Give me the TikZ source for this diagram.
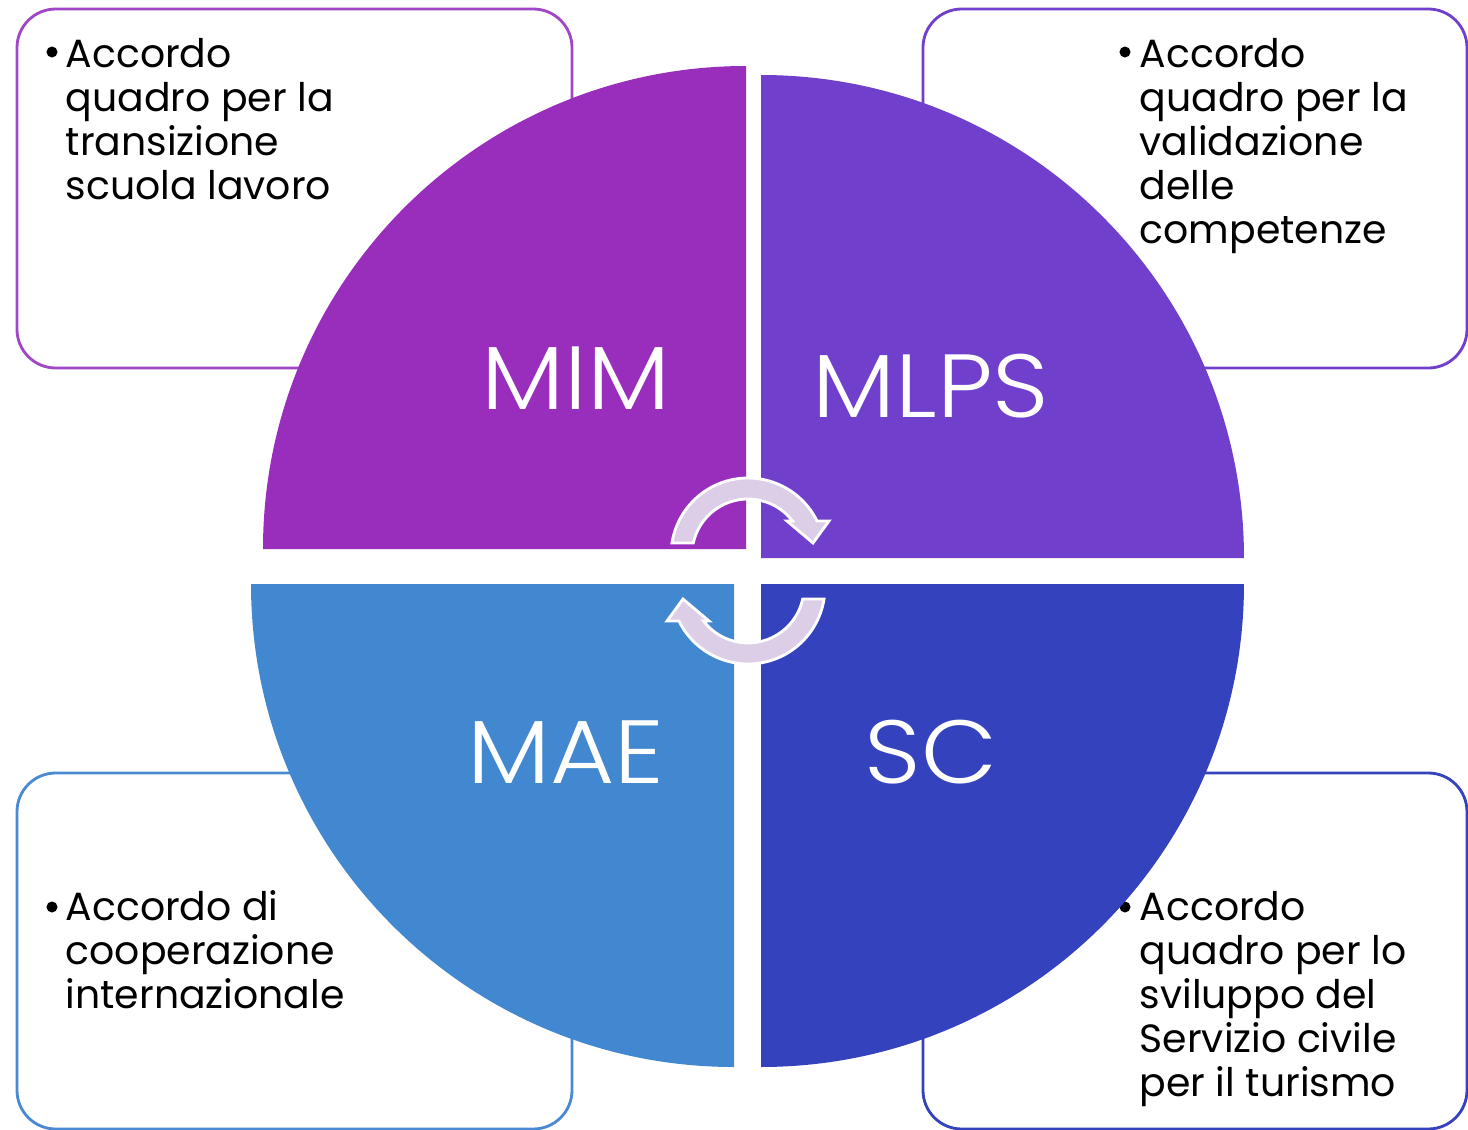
\documentclass[tikz,border=0pt]{standalone}
\usepackage{fontspec}
\setmainfont{Poppins}
\newfontfamily\thinfont{Poppins Light}

\definecolor{mimcol}{HTML}{992EBC}
\definecolor{mlpscol}{HTML}{7040CC}
\definecolor{maecol}{HTML}{4288D0}
\definecolor{sccol}{HTML}{3542BE}
\definecolor{mimline}{HTML}{A046C6}
\definecolor{maeline}{HTML}{4A8AD4}
\definecolor{arrowcol}{HTML}{DDCEE8}

\begin{document}
\begin{tikzpicture}[x=0.01cm, y=-0.01cm,
    infobox/.style={line width=0.8pt, rounded corners=11pt, fill=white},
    itemtext/.style={anchor=base west, align=left, inner sep=0pt,
      font=\fontsize{11.2}{12.5}\selectfont},
    bulletdot/.style={circle, fill=black, inner sep=0pt, minimum size=0.11cm},
    bigtext/.style={text=white, inner sep=0pt, xscale=1.1, transform shape,
      font=\thinfont\fontsize{25.5}{30}\selectfont},
    cyclearrow/.style={fill=arrowcol, draw=white, line width=0.8pt}]
    \useasboundingbox (0, 0) rectangle (1468, 1130);
    \fill[white] (0, 0) rectangle (1468, 1130);
    \clip (0, 0) rectangle (1468, 1130);

    % Boxes
    \draw[infobox, draw=mimline] (17, 9) rectangle (572, 368);
    \draw[infobox, draw=mlpscol] (923, 9) rectangle (1467, 368);
    \draw[infobox, draw=maeline] (17, 773) rectangle (572, 1129);
    \draw[infobox, draw=sccol] (923, 773) rectangle (1467, 1129);

    % Box texts (placed at the baseline of their last line)
    \node[bulletdot] (tldot) at (52, 52) {};
    \node[itemtext] (tltext) at (65, 199) {Accordo\\quadro per la\\transizione\\scuola lavoro};
    \node[bulletdot] (trdot) at (1125, 52) {};
    \node[itemtext] (trtext) at (1139, 243) {Accordo\\quadro per la\\validazione\\delle\\competenze};
    \node[bulletdot] (bldot) at (52, 907) {};
    \node[itemtext] (bltext) at (65, 1008) {Accordo di\\cooperazione\\internazionale};
    \node[bulletdot] (brdot) at (1125, 907) {};
    \node[itemtext] (brtext) at (1139, 1096) {Accordo\\quadro per lo\\sviluppo del\\Servizio civile\\per il turismo};

    % Quarters
    \fill[mimcol] (746, 549) -- (263, 549) arc[start angle=180, end angle=270, radius=483] -- cycle;
    \fill[mlpscol] (761, 558) -- (1244, 558) arc[start angle=0, end angle=-90, radius=483] -- cycle;
    \fill[maecol] (734, 584) -- (251, 584) arc[start angle=180, end angle=90, radius=483] -- cycle;
    \fill[sccol] (761, 584) -- (1244, 584) arc[start angle=0, end angle=90, radius=483] -- cycle;

    % Labels
    \node[bigtext] (mim) at (576, 378) {MIM};
    \node[bigtext] (mlps) at (931, 386) {MLPS};
    \node[bigtext] (mae) at (566, 752) {MAE};
    \node[bigtext] (sc) at (931, 752) {SC};

    % Cycle arrows
    \begin{scope}[shift={(748, 555)}, yscale=-1]
        \filldraw[cyclearrow] (171:77) arc[start angle=171, end angle=26.2, radius=77]
            -- (81, 34) -- (65, 12) -- (39, 34) -- (37.4:56)
            arc[start angle=37.4, end angle=167.6, radius=56] -- cycle;
    \end{scope}
    \begin{scope}[shift={(748, 587)}, xscale=-1]
        \filldraw[cyclearrow] (171:77) arc[start angle=171, end angle=26.2, radius=77]
            -- (81, 34) -- (65, 12) -- (39, 34) -- (37.4:56)
            arc[start angle=37.4, end angle=167.6, radius=56] -- cycle;
    \end{scope}
\end{tikzpicture}
\end{document}
